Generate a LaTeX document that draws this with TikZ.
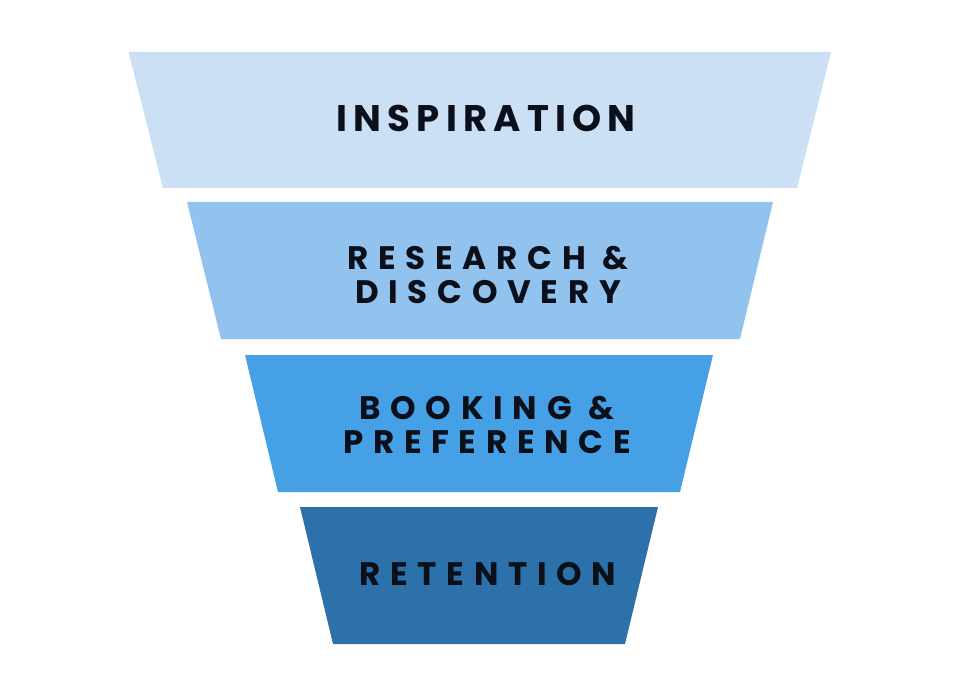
\documentclass[tikz,border=0pt]{standalone}
\usepackage{fontspec}
\setmainfont{Poppins}[LetterSpace=30]
\newfontfamily\bigfont{Poppins}[LetterSpace=17]
\definecolor{c1}{HTML}{CCE0F5}
\definecolor{c2}{HTML}{92C2EE}
\definecolor{c3}{HTML}{45A0E6}
\definecolor{c4}{HTML}{2C71AA}
\definecolor{ink}{HTML}{0A0F1A}
\begin{document}
\begin{tikzpicture}[x=1pt,y=-1pt,
  lbl/.style={text=ink,font=\fontsize{32.5}{34}\selectfont\bfseries,align=center,inner sep=0pt,anchor=center}]
\useasboundingbox (0,0) rectangle (960,700);
\fill[white] (0,0) rectangle (960,700);
\fill[c1] (128.5,52) -- (831,52) -- (797,188) -- (163,188) -- cycle;
\fill[c2] (187,202) -- (773,202) -- (740,339) -- (221,339) -- cycle;
\fill[c3] (245,355) -- (713,355) -- (680,492) -- (278,492) -- cycle;
\fill[c4] (300,507) -- (658,507) -- (625,644) -- (333,644) -- cycle;
\node[lbl,font=\bigfont\fontsize{37}{40}\selectfont\bfseries] (t1) at (486,118) {INSPIRATION};
\node[lbl] (t2) at (488,274.5) {RESEARCH \&\\DISCOVERY};
\node[lbl] (t3) at (487,424.5) {BOOKING \&\\PREFERENCE};
\node[lbl] (t4) at (488,574) {RETENTION};
\end{tikzpicture}
\end{document}
